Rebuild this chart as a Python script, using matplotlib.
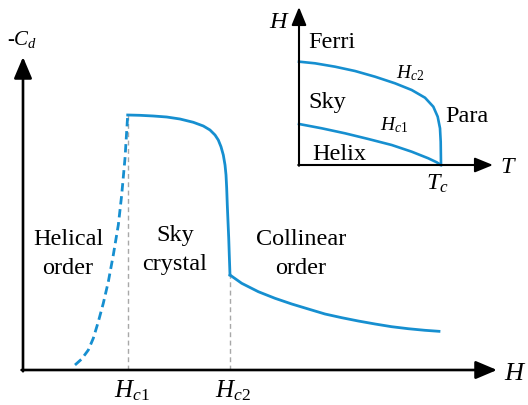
import matplotlib
matplotlib.use('Agg')
import matplotlib.pyplot as plt

plt.rcParams['font.family'] = ['Liberation Serif', 'DejaVu Serif']
plt.rcParams['mathtext.fontset'] = 'custom'
plt.rcParams['mathtext.rm'] = 'Liberation Serif'
plt.rcParams['mathtext.it'] = 'Liberation Serif:italic'

# ---------------- data ----------------
# main panel: H (field) vs -C_d, arbitrary units 0..100
Hc1 = 22.09
Hc2 = 43.67
helical_H = [10.97, 12.38, 13.78, 14.83, 15.89, 16.94, 18.00, 19.05, 20.11, 20.82, 21.52, 22.09]
helical_C = [1.60, 3.51, 6.39, 10.13, 15.43, 21.31, 28.21, 36.74, 46.33, 55.91, 67.64, 81.47]
sky_H = [22.09, 24.68, 27.49, 30.32, 33.12, 35.93, 38.04, 39.45, 40.51, 41.20, 41.77,
         42.26, 42.62, 42.83, 42.97, 43.10, 43.25, 43.40, 43.52, 43.67]
sky_C = [81.47, 81.37, 81.15, 80.83, 80.19, 79.14, 77.96, 76.68, 75.08, 73.48, 71.34,
         68.69, 65.50, 62.30, 58.15, 52.72, 47.38, 42.17, 36.74, 30.35]
coll_H = [43.67, 46.14, 49.64, 53.16, 56.69, 60.19, 63.71, 67.24, 70.74, 74.26, 77.78,
          81.29, 84.81, 87.76]
coll_C = [30.35, 27.70, 25.02, 22.91, 21.09, 19.49, 17.89, 16.71, 15.65, 14.70, 13.83,
          13.19, 12.68, 12.36]
region_labels = ["Helical\norder", "Sky\ncrystal", "Collinear\norder"]
tick_labels = [r"$H_{c1}$", r"$H_{c2}$"]

# inset: phase diagram T vs H, arbitrary units 0..100
Tc = 73.2
hc2_T = [0, 8.25, 18.56, 28.87, 39.18, 49.48, 58.09, 64.95, 69.23, 71.49, 72.68, 73.04, 73.2]
hc2_H = [65.4, 64.37, 62.22, 59.49, 55.89, 51.71, 47.47, 42.59, 36.90, 30.57, 23.23, 14.75, 0]
hc1_T = [0, 11.70, 23.71, 35.72, 47.78, 58.09, 66.65, 70.98, 73.2]
hc1_H = [25.95, 23.23, 20.06, 16.46, 12.66, 8.42, 4.24, 1.71, 0]
phase_labels = ["Ferri", "Sky", "Helix", "Para"]

BLUE = '#168fd0'
GRAY = '#a8a8a8'

W, Hpx = 528, 405
fig = plt.figure(figsize=(W / 100, Hpx / 100), dpi=100)


def P(x, y):
    return (x / W, 1 - y / Hpx)


# ---------------- main axes ----------------
ax = fig.add_axes([23 / W, 1 - 370 / Hpx, (497 - 23) / W, (370 - 57) / Hpx])
ax.set_xlim(0, 100)
ax.set_ylim(0, 100)
ax.axis('off')

arrow_main = dict(arrowstyle='-|>,head_length=13,head_width=5.5', lw=1.9, color='k',
                  shrinkA=0, shrinkB=0, mutation_scale=1)
ax.annotate('', xy=(1, 0), xytext=(-0.003, 0), xycoords='axes fraction', arrowprops=arrow_main)
ax.annotate('', xy=(0, 1), xytext=(0, -0.004), xycoords='axes fraction', arrowprops=arrow_main)

ax.plot([Hc1, Hc1], [0, helical_C[-1]], ls=(0, (3.5, 2.5)), color=GRAY, lw=1.0, clip_on=False)
ax.plot([Hc2, Hc2], [0, coll_C[0]], ls=(0, (3.5, 2.5)), color=GRAY, lw=1.0, clip_on=False)

ax.plot(helical_H, helical_C, ls=(0, (3.0, 1.7)), color=BLUE, lw=2.0, clip_on=False)
ax.plot(sky_H, sky_C, color=BLUE, lw=2.0, clip_on=False, solid_joinstyle='round')
ax.plot(coll_H, coll_C, color=BLUE, lw=2.0, clip_on=False, solid_joinstyle='round')

fs = 17.5
label_pos = [(68, 245), (175, 241), (301, 245)]
for lab, (x, y) in zip(region_labels, label_pos):
    for i, line in enumerate(lab.split('\n')):
        fig.text(*P(x, y + 29 * i), line, ha='center', va='baseline', fontsize=fs)

tick_pos = [(132, 397), (233, 397)]
for lab, (x, y) in zip(tick_labels, tick_pos):
    fig.text(*P(x, y), lab, ha='center', va='baseline', fontsize=18)

fig.text(*P(504, 380), r"$H$", ha='left', va='baseline', fontsize=19)
fig.text(*P(7, 45), r"-$C_d$", ha='left', va='baseline', fontsize=15)

# ---------------- inset ----------------
ax2 = fig.add_axes([299 / W, 1 - 165 / Hpx, (493 - 299) / W, (165 - 7) / Hpx])
ax2.set_xlim(0, 100)
ax2.set_ylim(0, 100)
ax2.axis('off')
arrow_in = dict(arrowstyle='-|>,head_length=11,head_width=4.5', lw=1.5, color='k',
                shrinkA=0, shrinkB=0, mutation_scale=1)
ax2.annotate('', xy=(1, 0), xytext=(-0.004, 0), xycoords='axes fraction', arrowprops=arrow_in)
ax2.annotate('', xy=(0, 1), xytext=(0, -0.005), xycoords='axes fraction', arrowprops=arrow_in)

ax2.plot(hc2_T, hc2_H, color=BLUE, lw=1.9, clip_on=False, solid_joinstyle='round')
ax2.plot(hc1_T, hc1_H, color=BLUE, lw=1.9, clip_on=False, solid_joinstyle='round')

phase_pos = [(308, 48), (308, 108), (312, 160), (445, 122)]
for lab, (x, y) in zip(phase_labels, phase_pos):
    fig.text(*P(x, y), lab, ha='left', va='baseline', fontsize=17.5)

fig.text(*P(269, 28), r"$H$", ha='left', va='baseline', fontsize=17.5)
fig.text(*P(500, 173), r"$T$", ha='left', va='baseline', fontsize=17.5)
fig.text(*P(426, 190), r"$T_c$", ha='left', va='baseline', fontsize=17.5)
fig.text(*P(396, 78), r"$H_{c2}$", ha='left', va='baseline', fontsize=14)
fig.text(*P(380, 130), r"$H_{c1}$", ha='left', va='baseline', fontsize=14)

fig.savefig('out.png', dpi=100)
